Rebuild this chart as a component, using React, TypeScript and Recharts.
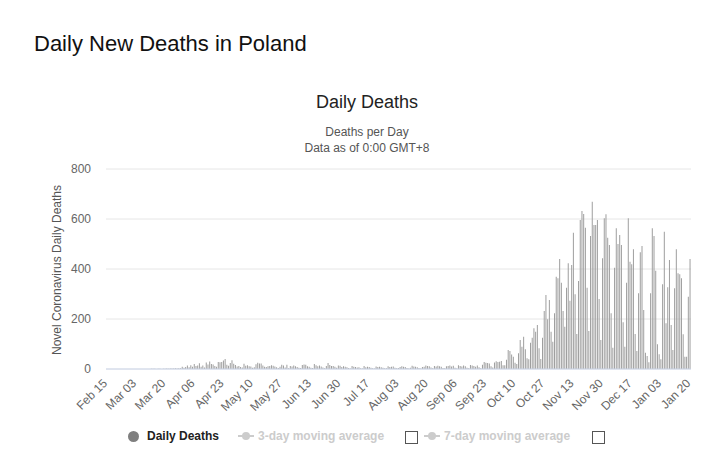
import { BarChart, Bar, XAxis, YAxis, CartesianGrid } from 'recharts';

// tick labels on the category axis (every 17th day)
const tickLabels = [
  'Feb 15', 'Mar 03', 'Mar 20', 'Apr 06', 'Apr 23', 'May 10', 'May 27', 'Jun 13', 'Jun 30', 'Jul 17',
  'Aug 03', 'Aug 20', 'Sep 06', 'Sep 23', 'Oct 10', 'Oct 27', 'Nov 13', 'Nov 30', 'Dec 17', 'Jan 03', 'Jan 20',
];
const yTicks = [0, 200, 400, 600, 800];

// daily deaths, month by month (Feb 15 2020 .. Jan 20 2021)
const feb = [0, 0, 0, 0, 0, 0, 0, 0, 0, 0, 0, 0, 0, 0, 0];
const mar = [0, 0, 0, 0, 0, 0, 0, 0, 0, 0, 0, 1, 1, 1, 0, 1, 1, 0, 1, 1, 2, 1, 2, 2, 2, 3, 2, 3, 3, 9, 5];
const apr = [8, 14, 7, 15, 9, 20, 12, 14, 23, 9, 14, 6, 26, 18, 30, 20, 18, 12, 9, 28, 27, 28, 34, 40, 17, 13, 24, 35, 21, 16];
const may = [10, 12, 8, 6, 21, 13, 15, 11, 10, 5, 7, 19, 25, 22, 22, 14, 9, 8, 11, 12, 15, 13, 10, 7, 4, 9, 17, 14, 6, 17, 3];
const jun = [12, 10, 14, 11, 8, 5, 4, 16, 18, 17, 11, 9, 5, 4, 20, 15, 11, 14, 10, 6, 3, 12, 24, 16, 12, 12, 9, 5, 14, 13];
const jul = [8, 11, 9, 7, 4, 2, 12, 9, 8, 6, 7, 3, 2, 12, 7, 9, 8, 5, 3, 2, 10, 8, 9, 7, 5, 3, 3, 11, 8, 9, 10];
const aug = [5, 3, 4, 8, 11, 9, 8, 4, 2, 5, 13, 10, 9, 7, 4, 2, 8, 9, 14, 12, 11, 6, 3, 12, 10, 13, 11, 9, 4, 3, 11];
const sep = [12, 14, 10, 13, 5, 2, 15, 12, 10, 14, 11, 5, 3, 16, 14, 12, 9, 14, 7, 3, 17, 28, 25, 24, 22, 11, 6, 26, 31, 28];
const oct = [29, 32, 15, 15, 37, 76, 72, 58, 49, 25, 20, 63, 116, 89, 129, 79, 43, 39, 105, 125, 163, 149, 176, 83, 40, 125, 232, 296, 199, 276, 149];
const nov = [109, 223, 369, 363, 440, 345, 232, 169, 325, 423, 273, 416, 545, 299, 140, 352, 596, 632, 620, 565, 325, 152, 532, 669, 576, 576, 596, 280, 116, 443];
const dec = [603, 619, 525, 496, 223, 85, 405, 563, 500, 536, 496, 187, 89, 345, 603, 429, 419, 479, 140, 72, 303, 467, 492, 236, 65, 52, 27, 303, 563, 532, 393];
const jan = [99, 59, 39, 339, 549, 183, 327, 436, 176, 76, 323, 479, 383, 379, 363, 139, 49, 49, 289, 440];

const dailyDeaths = [...feb, ...mar, ...apr, ...may, ...jun, ...jul, ...aug, ...sep, ...oct, ...nov, ...dec, ...jan];

const MONTHS = ['Jan', 'Feb', 'Mar', 'Apr', 'May', 'Jun', 'Jul', 'Aug', 'Sep', 'Oct', 'Nov', 'Dec'];
const data = dailyDeaths.map((deaths, i) => {
  const d = new Date(2020, 1, 15 + i);
  const date = `${MONTHS[d.getMonth()]} ${String(d.getDate()).padStart(2, '0')}`;
  return { date, deaths };
});

const FONT = '"Liberation Sans", Arial, Helvetica, sans-serif';

const XTick = ({ x, y, payload }: any) => (
  <g transform={`translate(${x + 1},${y + 7})`}>
    <text transform="rotate(-45)" textAnchor="end" fill="#666" fontSize={12} fontFamily={FONT}>
      {payload.value}
    </text>
  </g>
);

const Checkbox = ({ left }: { left: number }) => (
  <div style={{ position: 'absolute', left, top: 431, width: 11, height: 11, border: '1px solid #555', background: '#fff' }} />
);

const LineSymbol = ({ left }: { left: number }) => (
  <div style={{ position: 'absolute', left, top: 430, width: 16, height: 12 }}>
    <div style={{ position: 'absolute', left: 0, top: 5, width: 16, height: 2, background: '#ccc' }} />
    <div style={{ position: 'absolute', left: 4, top: 2, width: 8, height: 8, borderRadius: 4, background: '#ccc' }} />
  </div>
);

export default function App() {
  return (
    <div style={{ position: 'absolute', left: 0, top: 0, width: 720, height: 469, background: '#fff', fontFamily: FONT, overflow: 'hidden' }}>
      <div style={{ position: 'absolute', left: 34, top: 31, fontSize: 22, color: '#111', whiteSpace: 'nowrap' }}>
        Daily New Deaths in Poland
      </div>
      <div style={{ position: 'absolute', left: 0, width: 734, top: 92, textAlign: 'center', fontSize: 18, color: '#222' }}>
        Daily Deaths
      </div>
      <div style={{ position: 'absolute', left: 0, width: 734, top: 124, textAlign: 'center', fontSize: 12, lineHeight: '16px', color: '#555' }}>
        Deaths per Day
        <br />
        Data as of 0:00 GMT+8
      </div>
      <div
        style={{
          position: 'absolute', left: 57, top: 270, transform: 'translate(-50%, -50%) rotate(-90deg)',
          fontSize: 12, color: '#555', whiteSpace: 'nowrap',
        }}
      >
        Novel Coronavirus Daily Deaths
      </div>

      <div style={{ position: 'absolute', left: 0, top: 0 }}>
        <BarChart width={720} height={469} data={data} margin={{ top: 169, right: 29, left: 46, bottom: 40 }} barCategoryGap="15%">
          <CartesianGrid vertical={false} stroke="#e6e6e6" />
          <XAxis
            dataKey="date"
            ticks={tickLabels}
            interval={0}
            tick={<XTick />}
            tickLine={false}
            axisLine={{ stroke: '#ccd6eb' }}
            height={60}
          />
          <YAxis
            domain={[0, 800]}
            ticks={yTicks}
            width={60}
            tickSize={0}
            tickMargin={15}
            tickLine={false}
            axisLine={false}
            tick={{ fill: '#666', fontSize: 12, fontFamily: FONT }}
          />
          <Bar dataKey="deaths" fill="#9e9e9e" isAnimationActive={false} />
        </BarChart>
      </div>

      {/* legend */}
      <div style={{ position: 'absolute', left: 128, top: 431, width: 11, height: 11, borderRadius: 6, background: '#7f7f7f' }} />
      <div style={{ position: 'absolute', left: 147, top: 429, fontSize: 12, fontWeight: 'bold', color: '#222' }}>Daily Deaths</div>
      <LineSymbol left={238} />
      <div style={{ position: 'absolute', left: 258, top: 429, fontSize: 12, fontWeight: 'bold', color: '#ccc' }}>3-day moving average</div>
      <Checkbox left={405} />
      <LineSymbol left={424} />
      <div style={{ position: 'absolute', left: 444, top: 429, fontSize: 12, fontWeight: 'bold', color: '#ccc' }}>7-day moving average</div>
      <Checkbox left={592} />
    </div>
  );
}
